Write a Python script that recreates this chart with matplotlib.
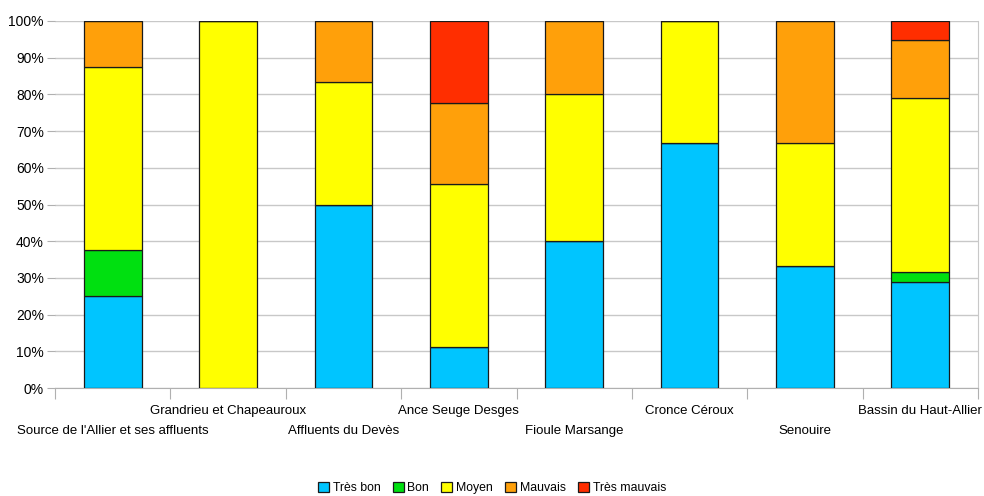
import matplotlib
matplotlib.use("Agg")
import matplotlib.pyplot as plt
import numpy as np
from matplotlib.ticker import FixedLocator, PercentFormatter

plt.rcParams['font.family'] = ['Liberation Sans', 'DejaVu Sans']

categories = [
    "Source de l'Allier et ses affluents",
    "Grandrieu et Chapeauroux",
    "Affluents du Devès",
    "Ance Seuge Desges",
    "Fioule Marsange",
    "Cronce Céroux",
    "Senouire",
    "Bassin du Haut-Allier",
]
series_names = ["Très bon", "Bon", "Moyen", "Mauvais", "Très mauvais"]
colors = ["#00C5FF", "#00E010", "#FFFF00", "#FFA00A", "#FF2E00"]

# share of each class per basin, in %
tres_bon = [25.0, 0.0, 50.0, 11.11, 40.0, 66.67, 33.33, 28.95]
bon = [12.5, 0.0, 0.0, 0.0, 0.0, 0.0, 0.0, 2.63]
moyen = [50.0, 100.0, 33.33, 44.44, 40.0, 33.33, 33.33, 47.37]
mauvais = [12.5, 0.0, 16.67, 22.22, 20.0, 0.0, 33.33, 15.79]
tres_mauvais = [0.0, 0.0, 0.0, 22.22, 0.0, 0.0, 0.0, 5.26]
series = [tres_bon, bon, moyen, mauvais, tres_mauvais]

fig = plt.figure(figsize=(9.84, 4.96), dpi=100)
ax = fig.add_axes([55 / 984, 1 - 388 / 496, (978 - 55) / 984, (388 - 21) / 496])

x = np.arange(len(categories))
bottom = np.zeros(len(categories))
handles = []
for name, vals, col in zip(series_names, series, colors):
    vals = np.array(vals)
    h = ax.bar(x, vals, width=0.5, bottom=bottom, color=col, edgecolor="#1a1a1a",
               linewidth=0.9, label=name, zorder=3)
    handles.append(h)
    bottom += vals

ax.set_xlim(-0.5, len(categories) - 0.5)
ax.set_ylim(0, 100)
ax.yaxis.set_major_locator(FixedLocator(np.arange(0, 101, 10)))
ax.yaxis.set_major_formatter(PercentFormatter(decimals=0))
ax.grid(axis="y", color="#c8c8c8", linewidth=1, zorder=0)
ax.tick_params(axis="y", length=6, color="#b0b0b0", labelsize=10, pad=2)

for side in ["top", "left"]:
    ax.spines[side].set_visible(False)
ax.spines["right"].set_color("#c8c8c8")
ax.spines["bottom"].set_color("#b0b0b0")

# category boundary ticks on the x axis
ax.set_xticks(np.arange(-0.5, len(categories), 1.0))
ax.set_xticklabels([])
ax.tick_params(axis="x", length=8, color="#b0b0b0")

# staggered category labels
for i, cat in enumerate(categories):
    y = -0.063 if i % 2 == 1 else -0.117
    ax.text(i, y, cat, transform=ax.get_xaxis_transform(), ha="center", va="center",
            fontsize=9.5, color="#000000")

leg = fig.legend(handles=handles, labels=series_names, loc="center",
                 bbox_to_anchor=(0.5, 1 - 488 / 496), ncol=5, frameon=False,
                 fontsize=8.8, handlelength=0.9, handleheight=0.9,
                 handletextpad=0.3, columnspacing=1.0, borderaxespad=0)

fig.savefig("out.png", dpi=100)
